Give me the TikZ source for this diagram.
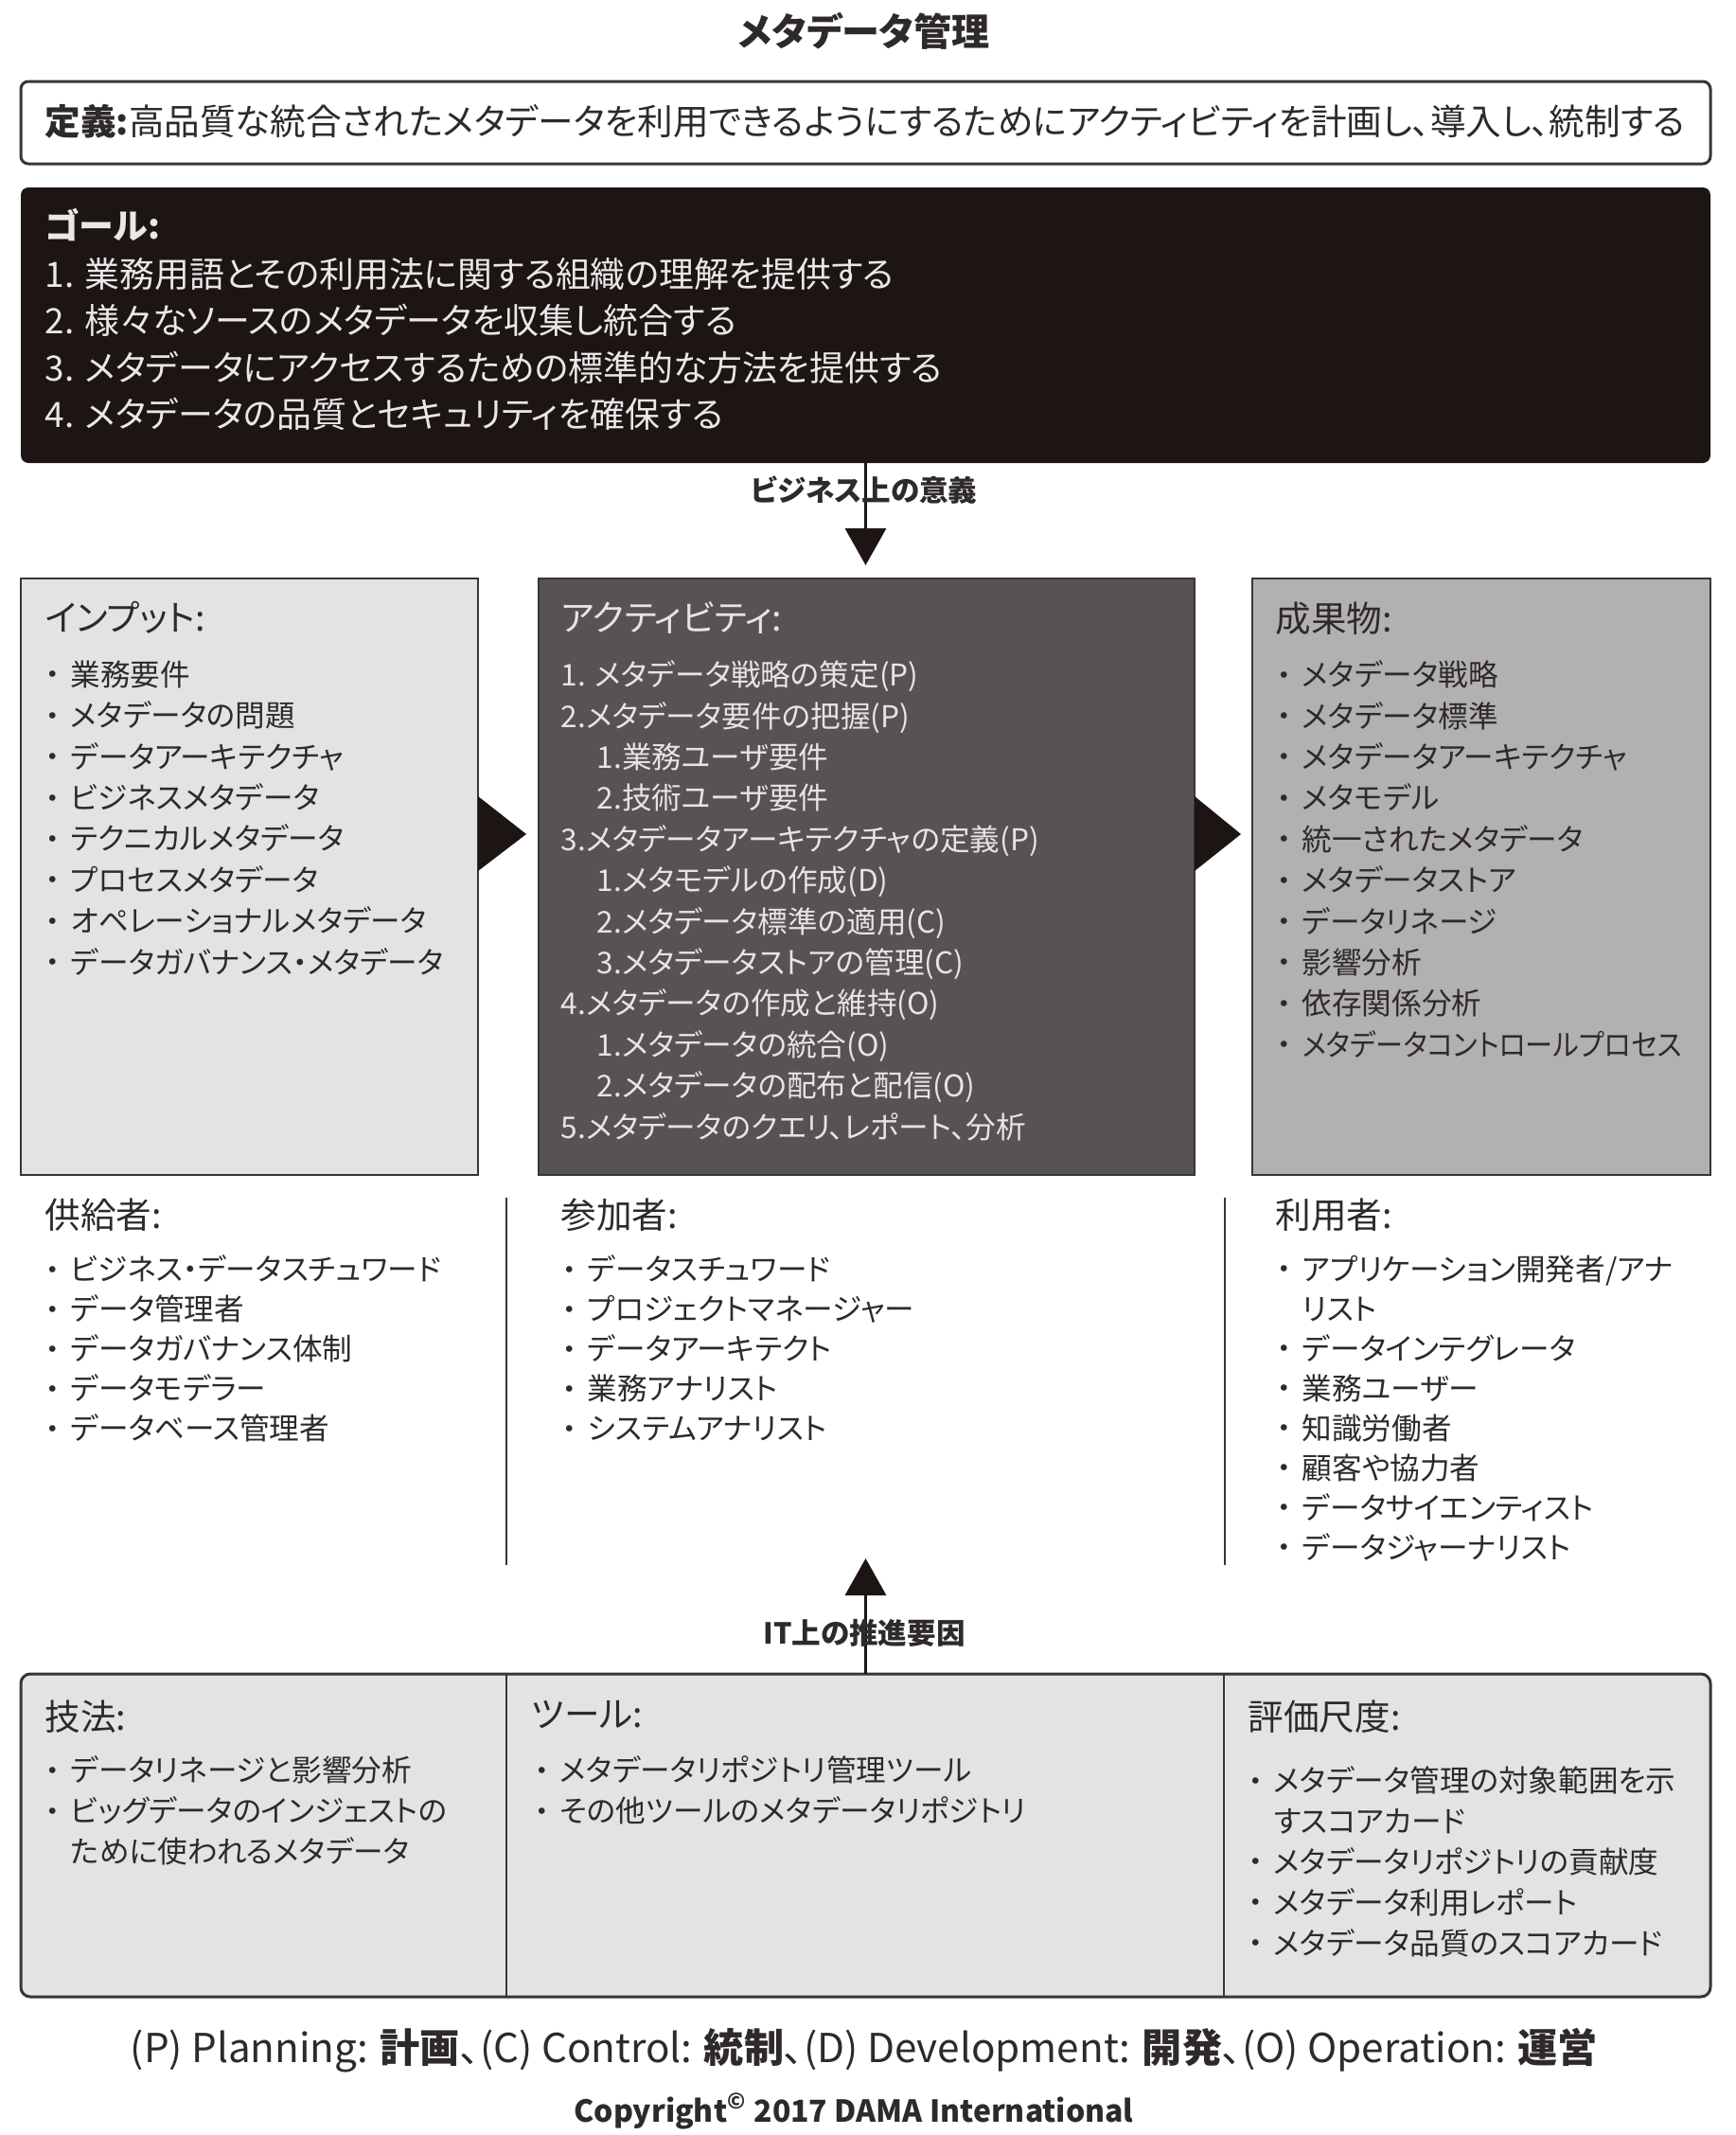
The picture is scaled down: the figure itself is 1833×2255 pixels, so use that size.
\documentclass[tikz,border=0pt]{standalone}
\usepackage{fontspec}
\setmainfont{Noto Sans CJK JP}[RawFeature=+palt]
\newfontfamily\dotfont{DejaVu Sans}
\usepackage{tikz}
\usetikzlibrary{positioning,arrows.meta}
\definecolor{goalgray}{HTML}{1D1414}
\definecolor{goaltext}{HTML}{EAE7E7}
\definecolor{actgray}{HTML}{575254}
\definecolor{acttext}{HTML}{E6E4E4}
\definecolor{outgray}{HTML}{B2B0B1}
\definecolor{ingray}{HTML}{E4E3E3}
\definecolor{framegray}{HTML}{3A3535}
\definecolor{textgray}{HTML}{2E2A2A}
\newcommand{\bul}{\makebox[2.6mm][l]{\raisebox{0.35mm}{\dotfont\fontsize{6.5}{6.5}\selectfont •}}}

\begin{document}
\begin{tikzpicture}[
  x=0.1mm, y=-0.1mm,
  boxnode/.style={rectangle, draw=framegray, line width=0.2mm, inner sep=0pt, outer sep=0pt, anchor=north west},
  headnode/.style={anchor=north west, inner sep=0pt, text=textgray, font=\fontsize{10.7}{12}\selectfont},
  listnode/.style={anchor=north west, inner sep=0pt, align=left, text=textgray, font=\fontsize{9}{12.35}\selectfont},
  labelnode/.style={inner sep=0pt, text=textgray, font=\bfseries\fontsize{8.7}{10}\selectfont},
  flowline/.style={draw=goalgray, line width=0.35mm},
  >={Triangle[length=3.9mm,width=4.3mm]}
]
  \useasboundingbox (0,0) rectangle (1833,2255);

  \node[labelnode, anchor=base, font=\bfseries\fontsize{11.4}{13}\selectfont] (title) at (913,48) {メタデータ管理};

  % definition and goals
  \node[boxnode, fill=white, line width=0.3mm, rounded corners=0.8mm, minimum width=178.5mm, minimum height=8.7mm] (defn) at (22,86) {};
  \node[anchor=base west, inner sep=0pt, text=textgray, font=\fontsize{10.7}{12}\selectfont] (defntext) at (47,142)
    {\textbf{定義:}高品質な統合されたメタデータを利用できるようにするためにアクティビティを計画し、導入し、統制する};

  \node[boxnode, draw=none, fill=goalgray, rounded corners=0.8mm, minimum width=178.5mm, minimum height=29.1mm] (goal) at (22,198) {};
  \node[headnode, text=goaltext, font=\bfseries\fontsize{10.5}{14}\selectfont] (goalhead) at (47,220) {ゴール:};
  \node[listnode, text=goaltext, font=\fontsize{10.5}{14}\selectfont] (goallist) at (47,272)
    {1. 業務用語とその利用法に関する組織の理解を提供する\\
     2. 様々なソースのメタデータを収集し統合する\\
     3. メタデータにアクセスするための標準的な方法を提供する\\
     4. メタデータの品質とセキュリティを確保する};

  % inputs, activities, deliverables
  \node[boxnode, fill=ingray, minimum width=48.3mm, minimum height=63mm] (inp) at (22,611) {};
  \node[boxnode, fill=actgray, minimum width=69.3mm, minimum height=63mm] (act) at (569,611) {};
  \node[boxnode, fill=outgray, minimum width=48.4mm, minimum height=63mm] (out) at (1323,611) {};

  \node[headnode] (inphead) at ([shift={(25,24)}]inp.north west) {インプット:};
  \node[listnode] (inplist) at ([shift={(26,86)}]inp.north west)
    {\bul 業務要件\\ \bul メタデータの問題\\ \bul データアーキテクチャ\\ \bul ビジネスメタデータ\\
     \bul テクニカルメタデータ\\ \bul プロセスメタデータ\\ \bul オペレーショナルメタデータ\\
     \bul データガバナンス・メタデータ};

  \node[headnode, text=acttext] (acthead) at ([shift={(23,24)}]act.north west) {アクティビティ:};
  \node[listnode, text=acttext] (actlist) at ([shift={(23,86)}]act.north west)
    {1. メタデータ戦略の策定(P)\\
     2.メタデータ要件の把握(P)\\
     \hspace{3.8mm}1.業務ユーザ要件\\
     \hspace{3.8mm}2.技術ユーザ要件\\
     3.メタデータアーキテクチャの定義(P)\\
     \hspace{3.8mm}1.メタモデルの作成(D)\\
     \hspace{3.8mm}2.メタデータ標準の適用(C)\\
     \hspace{3.8mm}3.メタデータストアの管理(C)\\
     4.メタデータの作成と維持(O)\\
     \hspace{3.8mm}1.メタデータの統合(O)\\
     \hspace{3.8mm}2.メタデータの配布と配信(O)\\
     5.メタデータのクエリ、レポート、分析};

  \node[headnode] (outhead) at ([shift={(24,24)}]out.north west) {成果物:};
  \node[listnode] (outlist) at ([shift={(26,86)}]out.north west)
    {\bul メタデータ戦略\\ \bul メタデータ標準\\ \bul メタデータアーキテクチャ\\ \bul メタモデル\\
     \bul 統一されたメタデータ\\ \bul メタデータストア\\ \bul データリネージ\\ \bul 影響分析\\
     \bul 依存関係分析\\ \bul \scalebox{0.92}[1]{メタデータコントロールプロセス}};

  \fill[goalgray] ([shift={(0,230)}]inp.north east) -- ([shift={(-13,270)}]act.north west) -- ([shift={(0,309)}]inp.north east) -- cycle;
  \fill[goalgray] ([shift={(0,230)}]act.north east) -- ([shift={(-12,270)}]out.north west) -- ([shift={(0,309)}]act.north east) -- cycle;

  % suppliers, participants, consumers
  \draw[framegray, line width=0.25mm] (535,1265) -- (535,1653);
  \draw[framegray, line width=0.25mm] (1294,1265) -- (1294,1653);

  \node[headnode] (suphead) at (47,1265) {供給者:};
  \node[listnode, font=\fontsize{9}{11.95}\selectfont] (suplist) at (48,1325)
    {\bul ビジネス・データスチュワード\\ \bul データ管理者\\ \bul データガバナンス体制\\
     \bul データモデラー\\ \bul データベース管理者};

  \node[headnode] (parhead) at (592,1265) {参加者:};
  \node[listnode, font=\fontsize{9}{11.95}\selectfont] (parlist) at (594,1325)
    {\bul データスチュワード\\ \bul プロジェクトマネージャー\\ \bul データアーキテクト\\
     \bul 業務アナリスト\\ \bul システムアナリスト};

  \node[headnode] (conhead) at (1347,1265) {利用者:};
  \node[listnode, font=\fontsize{9}{11.95}\selectfont] (conlist) at (1349,1325)
    {\bul アプリケーション開発者/アナ\\ \hspace{2.6mm}リスト\\ \bul データインテグレータ\\
     \bul 業務ユーザー\\ \bul 知識労働者\\ \bul 顧客や協力者\\ \bul データサイエンティスト\\
     \bul データジャーナリスト};

  % techniques, tools, metrics
  \node[boxnode, fill=ingray, line width=0.3mm, rounded corners=1mm, minimum width=178.5mm, minimum height=34.1mm] (bot) at (22,1768) {};
  \draw[framegray, line width=0.2mm] (535,1768) -- (535,2109);
  \draw[framegray, line width=0.2mm] (1293,1768) -- (1293,2109);

  \node[headnode] (techhead) at (47,1795) {技法:};
  \node[listnode, font=\fontsize{9}{12.2}\selectfont] (techlist) at (48,1854)
    {\bul データリネージと影響分析\\ \bul ビッグデータのインジェストの\\ \hspace{2.6mm}ために使われるメタデータ};

  \node[headnode] (toolhead) at (561,1795) {ツール:};
  \node[listnode, font=\fontsize{9}{12.2}\selectfont] (toollist) at (565,1854)
    {\bul メタデータリポジトリ管理ツール\\ \bul その他ツールのメタデータリポジトリ};

  \node[headnode] (methead) at (1318,1795) {評価尺度:};
  \node[listnode, font=\fontsize{9}{12.2}\selectfont] (metlist) at (1319,1865)
    {\bul メタデータ管理の対象範囲を示\\ \hspace{2.6mm}すスコアカード\\ \bul メタデータリポジトリの貢献度\\
     \bul メタデータ利用レポート\\ \bul メタデータ品質のスコアカード};

  % drivers
  \draw[flowline, ->, shorten >=1.4mm] (goal.south) -- (goal.south |- act.north);
  \node[labelnode] (bizlabel) at (913,518) {ビジネス上の意義};
  \coordinate (drv) at (913,1646);
  \draw[flowline, ->] (bot.north) -- (bot.north |- drv);
  \node[labelnode] (itlabel) at (913,1725) {IT上の推進要因};

  \node[inner sep=0pt, text=textgray, font=\fontsize{12}{14}\selectfont] (legend) at (913,2166)
    {(P) Planning: \textbf{計画}、(C) Control: \textbf{統制}、(D) Development: \textbf{開発}、(O) Operation: \textbf{運営}};
  \node[labelnode, font=\bfseries\fontsize{9.1}{11}\selectfont] (copy) at (902,2230) {Copyright\textsuperscript{©} 2017 DAMA International};
\end{tikzpicture}
\end{document}
